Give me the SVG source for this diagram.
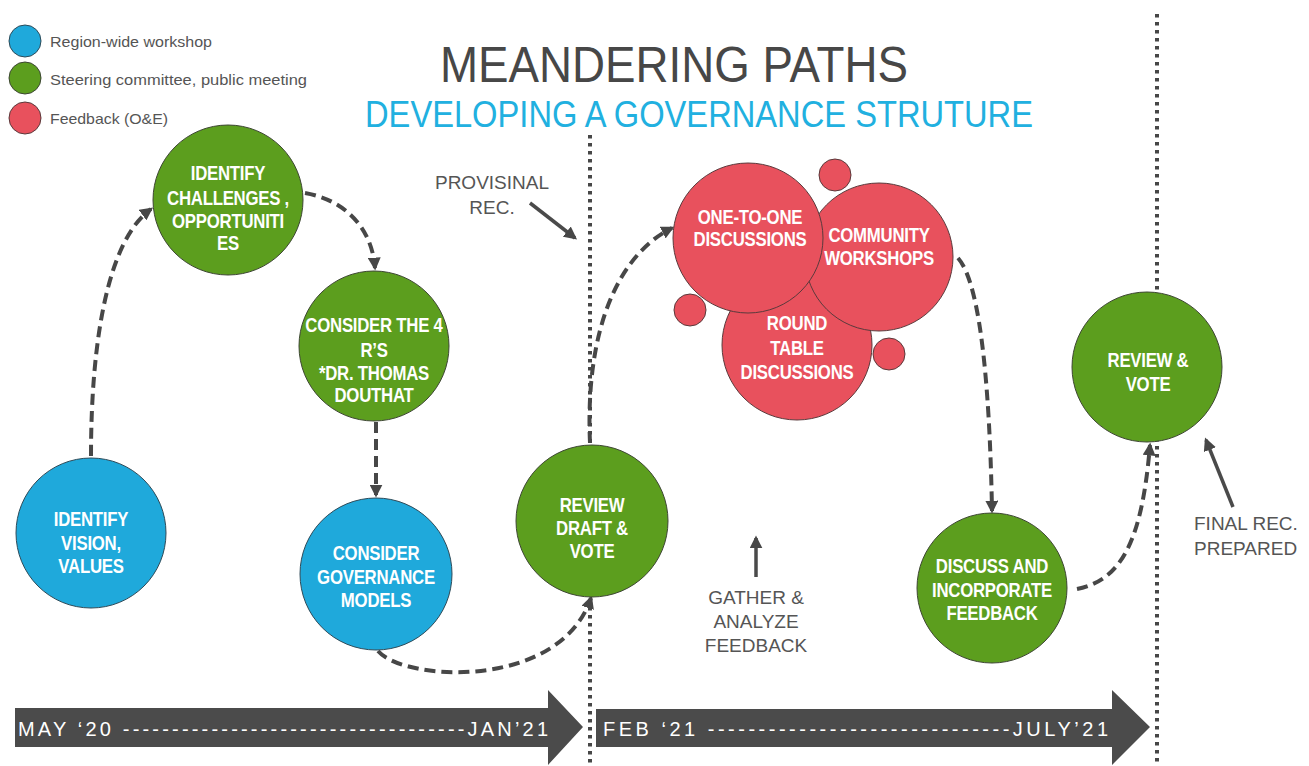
<svg xmlns="http://www.w3.org/2000/svg" width="1309" height="766" viewBox="0 0 1309 766">
<style>
.bg{fill:#ffffff}
.green{fill:#5c9e1e;stroke:#3d4633;stroke-width:1}
.blue{fill:#1fa9db;stroke:#2e4a58;stroke-width:1}
.red{fill:#e8515d;stroke:#5a3a3c;stroke-width:1}
.nt{font-family:"Liberation Sans",Arial,sans-serif;font-weight:bold;font-size:20px;fill:#ffffff;text-anchor:middle;letter-spacing:-0.3px}
.conn{fill:none;stroke:#474747;stroke-width:4;stroke-dasharray:11 6}
.dots{fill:none;stroke:#474747;stroke-width:4;stroke-dasharray:3.5 4.5}
.solid{fill:none;stroke:#4a4a4a;stroke-width:3.5}
.note{font-family:"Liberation Sans",Arial,sans-serif;font-size:19px;fill:#555555;text-anchor:middle}
.legend{font-family:"Liberation Sans",Arial,sans-serif;font-size:15px;fill:#555555}
.bar{fill:#4b4b4b}
.bartext{font-family:"Liberation Sans",Arial,sans-serif;font-size:20px;fill:#ffffff;letter-spacing:2px}
</style>
<defs>
<marker id="ah" viewBox="0 0 10 10" refX="8" refY="5" markerWidth="13" markerHeight="13" markerUnits="userSpaceOnUse" orient="auto">
<path d="M0,0 L10,5 L0,10 z" fill="#474747"/>
</marker>
</defs>
<rect class="bg" x="0" y="0" width="1309" height="766"/>

<g id="legend">
<circle cx="25" cy="41" r="16" class="blue" stroke="none"/>
<circle cx="25" cy="78" r="16" class="green" stroke="none"/>
<circle cx="25" cy="118" r="16" class="red" stroke="none"/>
<text class="legend" x="50" y="47" textLength="162" lengthAdjust="spacingAndGlyphs">Region-wide workshop</text>
<text class="legend" x="50" y="85" textLength="257" lengthAdjust="spacingAndGlyphs">Steering committee, public meeting</text>
<text class="legend" x="50" y="124" textLength="118" lengthAdjust="spacingAndGlyphs">Feedback (O&amp;E)</text>
</g>

<g id="title">
<text x="440" y="82" font-family="'Liberation Sans',Arial,sans-serif" font-size="50" fill="#474747" textLength="468" lengthAdjust="spacingAndGlyphs">MEANDERING PATHS</text>
<text x="365" y="127" font-family="'Liberation Sans',Arial,sans-serif" font-size="37" fill="#21b0e0" textLength="668" lengthAdjust="spacingAndGlyphs">DEVELOPING A GOVERNANCE STRUTURE</text>
</g>

<g id="timeline">
<polygon class="bar" points="15,708 548,708 548,690 583,727 548,765 548,747 15,747"/>
<text class="bartext" x="18" y="736" textLength="532" lengthAdjust="spacing">MAY ‘20 -----------------------------------JAN’21</text>
<polygon class="bar" points="596,709 1112,709 1112,690 1150,727 1112,765 1112,747 596,747"/>
<text class="bartext" x="603" y="736" textLength="507" lengthAdjust="spacing">FEB ‘21 ------------------------------JULY’21</text>
</g>

<g id="dividers">
<line class="dots" x1="590" y1="135" x2="590" y2="766"/>
<line class="dots" x1="1157" y1="14" x2="1157" y2="766"/>
</g>

<g id="connectors">
<path class="conn" d="M91,456 C91,340 108,240 151,209" marker-end="url(#ah)"/>
<path class="conn" d="M305,193 C345,200 372,228 375,268" marker-end="url(#ah)"/>
<path class="conn" d="M376,422 L376,495" marker-end="url(#ah)"/>
<path class="conn" d="M378,651 C405,682 560,690 591,598" marker-end="url(#ah)"/>
<path class="conn" d="M590,443 C585,330 618,255 672,228" marker-end="url(#ah)"/>
<path class="conn" d="M958,258 C982,285 990,400 992,511" marker-end="url(#ah)"/>
<path class="conn" d="M1077,589 C1122,580 1142,540 1150,445" marker-end="url(#ah)"/>
<path class="solid" d="M530,203 L575,238" marker-end="url(#ah)"/>
<path class="solid" d="M756,577 L756,538" marker-end="url(#ah)"/>
<path class="solid" d="M1233,507 L1206,440" marker-end="url(#ah)"/>
</g>

<g id="annotations">
<text class="note"><tspan x="492" y="189">PROVISINAL</tspan><tspan x="492" y="214">REC.</tspan></text>
<text class="note"><tspan x="756" y="604">GATHER &amp;</tspan><tspan x="756" y="628">ANALYZE</tspan><tspan x="756" y="652">FEEDBACK</tspan></text>
<text class="note" style="text-anchor:start"><tspan x="1194" y="530">FINAL REC.</tspan><tspan x="1194" y="555">PREPARED</tspan></text>
</g>

<g id="node-identify-vision">
<circle class="blue" cx="91" cy="533" r="75"/>
<text class="nt" transform="matrix(0.84 0 0 1 91 0)"><tspan x="0" y="526">IDENTIFY</tspan><tspan x="0" y="550">VISION,</tspan><tspan x="0" y="573">VALUES</tspan></text>
</g>

<g id="node-identify-challenges">
<circle class="green" cx="228" cy="200" r="75"/>
<text class="nt" transform="matrix(0.84 0 0 1 228 0)"><tspan x="0" y="180">IDENTIFY</tspan><tspan x="0" y="205">CHALLENGES ,</tspan><tspan x="0" y="228">OPPORTUNITI</tspan><tspan x="0" y="250">ES</tspan></text>
</g>

<g id="node-consider-4rs">
<circle class="green" cx="374" cy="346" r="75"/>
<text class="nt" transform="matrix(0.84 0 0 1 374 0)"><tspan x="0" y="332">CONSIDER THE 4</tspan><tspan x="0" y="357">R’S</tspan><tspan x="0" y="380">*DR. THOMAS</tspan><tspan x="0" y="402">DOUTHAT</tspan></text>
</g>

<g id="node-consider-governance">
<circle class="blue" cx="376" cy="574" r="76"/>
<text class="nt" transform="matrix(0.84 0 0 1 376 0)"><tspan x="0" y="560">CONSIDER</tspan><tspan x="0" y="584">GOVERNANCE</tspan><tspan x="0" y="607">MODELS</tspan></text>
</g>

<g id="node-review-draft">
<circle class="green" cx="592" cy="521" r="76"/>
<text class="nt" transform="matrix(0.84 0 0 1 592 0)"><tspan x="0" y="512">REVIEW</tspan><tspan x="0" y="535">DRAFT &amp;</tspan><tspan x="0" y="558">VOTE</tspan></text>
</g>

<g id="node-small-red-1"><circle class="red" cx="835" cy="175" r="16"/></g>
<g id="node-small-red-2"><circle class="red" cx="690" cy="310" r="16"/></g>
<g id="node-small-red-3"><circle class="red" cx="889" cy="354" r="16"/></g>

<g id="node-round-table">
<circle class="red" cx="797" cy="345" r="75"/>
<text class="nt" transform="matrix(0.84 0 0 1 797 0)"><tspan x="0" y="330">ROUND</tspan><tspan x="0" y="355">TABLE</tspan><tspan x="0" y="379">DISCUSSIONS</tspan></text>
</g>

<g id="node-community-workshops">
<circle class="red" cx="879" cy="257" r="74"/>
<text class="nt" transform="matrix(0.84 0 0 1 879 0)"><tspan x="0" y="242">COMMUNITY</tspan><tspan x="0" y="265">WORKSHOPS</tspan></text>
</g>

<g id="node-one-to-one">
<circle class="red" cx="748" cy="238" r="75"/>
<text class="nt" transform="matrix(0.84 0 0 1 750 0)"><tspan x="0" y="224">ONE-TO-ONE</tspan><tspan x="0" y="246">DISCUSSIONS</tspan></text>
</g>

<g id="node-discuss-incorporate">
<circle class="green" cx="992" cy="588" r="75"/>
<text class="nt" transform="matrix(0.84 0 0 1 992 0)"><tspan x="0" y="573">DISCUSS AND</tspan><tspan x="0" y="597">INCORPORATE</tspan><tspan x="0" y="620">FEEDBACK</tspan></text>
</g>

<g id="node-review-vote">
<circle class="green" cx="1147" cy="367" r="75"/>
<text class="nt" transform="matrix(0.84 0 0 1 1148 0)"><tspan x="0" y="367">REVIEW &amp;</tspan><tspan x="0" y="391">VOTE</tspan></text>
</g>
</svg>
